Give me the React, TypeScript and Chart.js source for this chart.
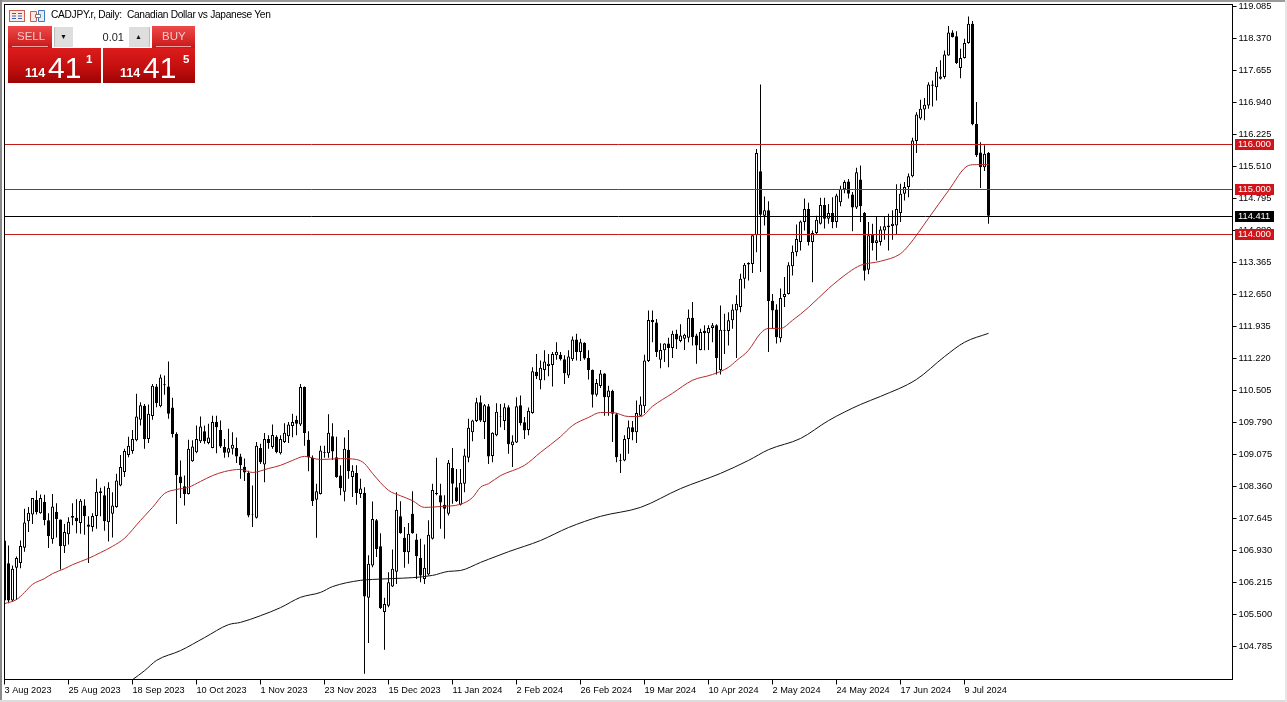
import React, { useEffect, useRef } from "react";
import { Chart, registerables } from "chart.js";

Chart.register(...registerables);

const highs = [
107.31,107.04,106.59,106.79,107.15,107.86,107.90,108.10,108.27,108.18,
108.17,107.76,108.19,107.98,107.62,107.52,107.67,107.98,108.07,108.08,
108.07,107.69,107.76,108.53,108.33,108.36,108.45,108.23,108.64,109.06,
109.20,109.47,109.62,110.43,110.24,110.20,110.19,110.65,110.65,110.86,
110.84,111.15,110.34,109.57,108.94,108.60,109.40,109.39,109.72,109.92,
109.72,109.76,109.94,109.94,109.83,109.42,109.65,109.57,109.45,109.09,
108.98,108.71,108.38,109.35,109.31,109.55,109.50,109.74,109.50,109.50,
109.77,109.80,109.98,109.94,110.65,110.59,109.59,109.05,108.42,109.27,
109.27,109.97,109.77,109.47,108.83,109.45,109.62,108.83,108.83,108.53,
108.34,106.82,108.02,107.63,107.31,105.87,106.44,106.95,108.23,108.03,
107.45,107.54,108.25,107.30,107.19,107.06,107.60,108.42,109.00,108.42,
108.16,108.95,109.22,108.75,108.75,109.20,109.87,109.85,110.34,110.39,
110.20,110.20,109.57,110.22,110.20,110.22,110.17,109.50,110.35,110.39,
109.91,110.12,111.02,111.32,111.17,111.40,111.32,111.36,111.58,111.36,
111.29,111.40,111.71,111.77,111.66,111.58,111.40,110.97,110.76,110.96,
110.89,110.61,110.52,110.00,109.09,109.50,109.83,109.82,110.28,110.37,
111.30,112.29,112.29,112.10,111.56,111.56,111.68,111.84,111.86,111.98,
111.77,112.31,112.48,111.77,111.88,111.96,111.96,112.01,111.98,112.40,
112.22,112.25,112.43,112.63,113.11,113.35,113.37,113.97,115.90,117.34,
114.84,114.73,112.66,112.43,112.78,113.04,113.37,113.74,114.21,114.30,
114.79,114.70,114.08,114.41,114.81,114.81,114.67,114.82,114.90,115.08,
115.20,115.23,114.94,115.48,115.53,114.49,114.27,114.23,114.38,114.17,
114.38,114.45,114.53,115.11,115.12,115.16,115.35,116.15,116.72,117.00,
117.04,117.39,117.43,117.73,117.88,118.10,118.65,118.55,118.53,118.14,
118.36,118.86,118.76,116.95,116.05,115.98,115.83,
];

const lows = [
105.74,105.75,105.79,105.82,106.53,106.90,107.34,107.52,107.73,107.75,
107.49,106.98,107.08,107.22,106.50,106.87,107.06,107.49,107.31,107.30,
107.28,106.65,107.35,107.41,107.69,107.37,107.13,107.22,107.88,108.36,
108.57,109.01,109.09,109.37,109.72,109.20,109.33,109.85,110.13,110.13,
110.41,109.87,109.45,107.52,108.10,107.93,108.18,108.91,109.10,109.33,
109.31,109.30,109.21,109.10,109.22,109.00,109.01,109.07,108.88,108.53,
108.48,107.67,107.45,107.64,108.86,108.45,109.20,109.20,109.10,109.07,
109.33,109.33,109.46,109.50,109.71,109.27,108.70,107.92,107.21,108.18,
109.00,109.00,108.95,108.55,108.16,108.03,108.53,108.12,107.95,108.10,
104.17,104.86,106.55,106.78,105.62,104.71,105.66,106.11,106.18,107.30,
106.54,106.63,107.30,106.29,106.22,106.18,106.37,107.17,108.16,107.41,
107.19,107.71,107.97,108.01,107.93,108.23,108.90,109.37,109.80,109.80,
109.42,108.86,108.90,109.48,109.68,109.62,109.09,108.79,109.33,109.72,
109.42,109.50,109.98,110.76,110.53,110.73,110.82,110.59,111.19,111.17,
110.65,110.78,111.16,111.17,111.16,111.19,110.75,110.12,110.37,110.56,
109.94,109.94,109.35,108.90,108.66,108.92,109.09,109.39,109.33,109.93,
110.00,111.14,111.58,111.25,111.00,111.14,111.02,111.23,111.43,111.58,
111.41,111.58,111.51,111.10,111.40,111.40,111.41,111.58,110.86,110.86,
111.32,111.51,111.88,111.23,112.25,112.78,112.96,113.13,113.59,113.15,
114.19,111.36,111.88,111.55,111.58,112.37,112.65,113.07,113.50,113.63,
114.08,113.74,112.92,114.00,114.21,114.12,114.23,114.13,114.14,114.62,
114.91,114.79,114.06,114.56,114.27,112.96,113.10,113.63,113.41,113.74,
113.87,113.63,113.87,113.99,114.27,114.75,114.82,115.27,115.81,116.55,
116.54,116.80,116.85,116.98,117.45,117.47,117.98,118.39,117.80,117.48,
117.92,118.25,116.43,115.72,115.03,115.41,114.23,
];

const opens = [
107.15,106.64,105.81,106.54,106.65,106.99,107.58,107.73,108.06,107.76,
108.01,107.60,107.18,107.79,107.62,107.02,107.29,107.66,107.66,107.54,
107.93,107.51,107.45,107.70,108.25,108.16,107.56,107.75,107.90,108.38,
108.68,109.06,109.15,109.39,109.85,110.16,109.42,109.93,110.59,110.15,
110.64,110.59,110.12,109.53,108.58,108.36,108.19,108.92,109.12,109.37,
109.59,109.33,109.22,109.80,109.62,109.24,109.11,109.20,109.22,109.03,
108.80,108.66,107.74,107.66,109.22,108.85,109.42,109.24,109.47,109.10,
109.35,109.48,109.71,109.85,109.74,110.58,109.40,109.00,108.06,108.19,
109.11,109.10,109.48,109.01,108.60,108.24,109.18,108.57,108.66,108.19,
108.22,105.87,106.59,107.60,107.02,105.55,105.69,106.12,106.45,107.69,
107.21,106.89,107.75,107.17,106.76,106.29,106.39,107.19,108.19,108.16,
107.95,107.75,108.77,108.34,107.95,108.42,109.00,109.57,109.82,110.24,
109.80,110.15,109.04,109.50,109.91,109.82,110.13,109.28,109.34,110.17,
109.79,109.62,110.00,110.92,110.73,110.96,111.05,111.07,111.29,111.30,
111.20,110.84,111.20,111.64,111.36,111.57,111.23,110.96,110.41,110.60,
110.88,110.35,110.49,109.97,108.95,108.94,109.42,109.68,109.57,109.94,
110.15,111.16,112.08,112.02,111.19,111.40,111.55,111.45,111.77,111.61,
111.66,111.68,112.13,111.73,111.41,111.84,111.78,111.90,111.96,110.96,
111.84,111.83,112.07,112.29,112.37,113.00,113.32,113.33,113.97,115.40,
114.41,114.53,112.51,112.31,111.67,112.59,112.66,113.28,113.59,113.82,
114.27,114.56,113.82,114.02,114.23,114.65,114.34,114.47,114.27,114.71,
115.00,115.17,114.88,114.59,115.22,114.47,113.20,113.99,113.80,113.82,
114.08,114.15,114.18,114.19,114.47,114.90,115.05,115.29,116.08,116.58,
116.78,116.87,117.31,117.28,117.47,117.51,117.99,118.50,118.42,117.71,
117.93,118.27,118.70,116.46,115.82,115.49,115.81,
];

const closes = [
105.81,105.81,106.52,106.76,107.03,107.55,107.77,108.10,107.78,108.10,
107.61,107.25,107.91,107.63,107.02,107.34,107.57,107.70,107.58,108.04,
107.69,107.46,107.70,108.24,108.21,107.58,108.33,107.93,108.49,108.79,
109.15,109.27,109.42,109.92,110.17,109.41,109.98,110.61,110.22,110.79,
110.62,109.98,109.53,108.61,108.43,108.19,109.20,109.25,109.42,109.70,
109.37,109.45,109.80,109.68,109.25,109.11,109.21,109.29,109.03,108.83,
108.67,107.71,107.73,109.27,108.90,109.42,109.33,109.51,109.12,109.42,
109.56,109.74,109.80,109.76,110.58,109.55,109.01,108.03,108.25,109.16,
109.13,109.56,109.14,108.57,108.32,109.20,108.70,108.71,108.21,108.31,
105.90,106.63,107.63,106.96,105.64,105.73,106.22,106.52,107.84,107.31,
106.89,107.30,107.31,106.80,106.37,106.54,107.28,108.28,108.21,108.00,
107.86,108.89,108.42,108.03,108.44,109.05,109.67,109.83,110.24,109.83,
110.17,109.03,109.56,110.03,109.92,110.13,109.30,109.36,110.15,109.77,
109.61,110.05,110.93,110.82,111.01,111.15,111.10,111.32,111.37,111.20,
110.89,111.26,111.64,111.36,111.58,111.22,110.96,110.41,110.67,110.88,
110.35,110.50,109.98,109.01,108.93,109.42,109.68,109.57,110.00,110.19,
111.17,112.08,112.03,111.36,111.41,111.55,111.45,111.77,111.64,111.73,
111.75,112.13,111.69,111.51,111.81,111.78,111.90,111.96,111.23,111.86,
111.86,112.07,112.31,112.44,113.00,113.31,113.35,113.97,115.81,114.43,
114.53,112.50,112.29,111.69,112.57,112.66,113.30,113.60,113.89,114.28,
114.56,113.82,114.02,114.32,114.65,114.34,114.47,114.27,114.86,115.01,
115.16,114.90,114.59,115.38,114.62,113.18,113.97,113.80,113.86,114.10,
114.17,114.19,114.23,114.56,114.90,115.05,115.29,116.09,116.67,116.80,
116.89,117.34,117.34,117.63,117.52,118.01,118.50,118.40,117.82,117.93,
118.27,118.70,116.45,115.76,115.49,115.79,114.41,
];

const ma50Index = [0,3,5,7,10,12,15,17,21,24,27,30,34,37,40,43,46,49,52,55,59,62,66,69,72,75,79,84,88,90,92,96,99,102,105,109,114,117,119,121,124,130,134,139,142,146,149,152,156,159,162,167,172,177,181,183,186,189,191,194,197,201,206,211,214,219,224,226,231,236,241,243,246];
const ma50Values = [105.74,105.83,105.99,106.17,106.30,106.41,106.52,106.61,106.75,106.88,107.02,107.20,107.60,107.89,108.20,108.29,108.34,108.47,108.60,108.69,108.74,108.67,108.76,108.83,108.94,109.03,108.96,108.98,108.96,108.87,108.65,108.27,108.15,108.04,107.89,107.91,107.96,108.11,108.34,108.42,108.60,108.83,109.12,109.47,109.72,109.90,110.01,110.01,109.92,109.92,110.15,110.44,110.73,110.86,111.02,111.17,111.40,111.78,111.89,111.89,112.07,112.36,112.78,113.14,113.30,113.39,113.56,113.74,114.35,114.97,115.53,115.55,115.55];

const ma200Index = [32,35,38,44,50,56,59,64,69,74,79,82,89,92,97,102,107,111,114,119,121,126,134,141,149,159,169,179,186,191,199,206,214,219,228,235,240,246];
const ma200Values = [104.04,104.24,104.47,104.69,104.98,105.27,105.32,105.47,105.65,105.88,105.99,106.12,106.26,106.28,106.30,106.32,106.37,106.46,106.48,106.66,106.73,106.90,107.15,107.44,107.69,107.89,108.31,108.65,108.94,109.18,109.43,109.83,110.19,110.37,110.75,111.26,111.58,111.78];

const dateTicks = ["3 Aug 2023","25 Aug 2023","18 Sep 2023","10 Oct 2023","1 Nov 2023","23 Nov 2023","15 Dec 2023","11 Jan 2024","2 Feb 2024","26 Feb 2024","19 Mar 2024","10 Apr 2024","2 May 2024","24 May 2024","17 Jun 2024","9 Jul 2024"];
const priceTicks = [119.085,118.37,117.655,116.94,116.225,115.51,114.795,114.08,113.365,112.65,111.935,111.22,110.505,109.79,109.075,108.36,107.645,106.93,106.215,105.5,104.785];
const priceTickLabels = ["119.085","118.370","117.655","116.940","116.225","115.510","114.795","114.080","113.365","112.650","111.935","111.220","110.505","109.790","109.075","108.360","107.645","106.930","106.215","105.500","104.785"];
const redLevels = [116, 115, 114];
const redLevelLabels = ["116.000", "115.000", "114.000"];
const lastPrice = 114.411;
const lastPriceLabel = "114.411";

const SLOTS = 308;
const TICK_STEP = 16;
const FONT = "'Liberation Sans', Arial, sans-serif";
const RED_LINE = "#c41a1a";

function sparse(idx: number[], vals: number[]) {
  const out: (number | null)[] = Array(SLOTS).fill(null);
  idx.forEach((k, j) => { out[k] = vals[j]; });
  return out;
}

const boxesPlugin = {
  id: "boxes",
  afterDatasetsDraw(chart: any) {
    const { ctx, chartArea, scales } = chart;
    ctx.save();
    ctx.lineWidth = 1;
    const level = (v: number, color: string) => {
      const y = Math.round(scales.y.getPixelForValue(v)) + 0.5;
      ctx.strokeStyle = color;
      ctx.beginPath();
      ctx.moveTo(chartArea.left, y);
      ctx.lineTo(chartArea.right, y);
      ctx.stroke();
    };
    redLevels.forEach((v) => level(v, RED_LINE));
    level(lastPrice, "#000");
    ctx.restore();
  },
  afterDraw(chart: any) {
    const { ctx, chartArea, scales } = chart;
    ctx.save();
    ctx.strokeStyle = "#000";
    ctx.lineWidth = 1;
    ctx.strokeRect(chartArea.left, chartArea.top, chartArea.right - chartArea.left, chartArea.bottom - chartArea.top);
    const box = (v: number, text: string, bg: string) => {
      const y = Math.round(scales.y.getPixelForValue(v));
      ctx.fillStyle = bg;
      ctx.fillRect(1235, y - 5, 39, 11);
      ctx.fillStyle = "#fff";
      ctx.font = `9.3px ${FONT}`;
      ctx.textBaseline = "middle";
      ctx.textAlign = "left";
      ctx.fillText(text, 1238, y + 0.5);
    };
    redLevels.forEach((v, i) => box(v, redLevelLabels[i], "#d0141a"));
    box(lastPrice, lastPriceLabel, "#000");
    ctx.restore();
  },
};

const abs = (left: number, top: number, w: number, h: number, extra: React.CSSProperties = {}): React.CSSProperties => ({
  position: "absolute", left, top, width: w, height: h, ...extra,
});

const sellBg = "linear-gradient(#ee4a4a, #c81818)";
const priceBg = "linear-gradient(#dc1c1c 0%, #c40f0f 55%, #9c0404 100%)";
const txt: React.CSSProperties = { position: "absolute", fontFamily: FONT, whiteSpace: "nowrap", lineHeight: 1 };

function Quote({ left, last, x, w }: { left: number; last: string; x: number; w: number }) {
  return (
    <div style={abs(left, 48, w, 35, { background: priceBg })}>
      <span style={{ ...txt, left: 17, top: 19, fontSize: 12.5, fontWeight: 700, color: "#fff" }}>114</span>
      <span style={{ ...txt, left: 40, top: 5, fontSize: 30, color: "#fff" }}>41</span>
      <span style={{ ...txt, left: x, top: 6, fontSize: 11.5, fontWeight: 700, color: "#fff" }}>{last}</span>
    </div>
  );
}

const noPadding = (axis: any) => {
  axis.paddingTop = 0;
  axis.paddingBottom = 0;
  axis.paddingLeft = 0;
  axis.paddingRight = 0;
};

export default function App() {
  const ref = useRef<HTMLCanvasElement>(null);
  useEffect(() => {
    const labels = Array.from({ length: SLOTS }, (_, i) => String(i));
    const chart = new Chart(ref.current as HTMLCanvasElement, {
      type: "bar",
      data: {
        labels,
        datasets: [
          {
            type: "line", label: "MA 50", data: sparse(ma50Index, ma50Values), spanGaps: true,
            borderColor: "#b52a2a", borderWidth: 1, pointRadius: 0, cubicInterpolationMode: "monotone", order: 2,
          },
          {
            type: "line", label: "MA 200", data: sparse(ma200Index, ma200Values), spanGaps: true,
            borderColor: "#111", borderWidth: 1, pointRadius: 0, cubicInterpolationMode: "monotone", order: 2,
          },
          {
            label: "Range", data: highs.map((h, i) => [lows[i], h]), barThickness: 1,
            backgroundColor: "#000", borderWidth: 0, inflateAmount: 0, grouped: false, order: 4,
          },
          {
            label: "Body", data: opens.map((o, i) => [Math.min(o, closes[i]), Math.max(o, closes[i])]), barThickness: 3,
            backgroundColor: opens.map((o, i) => (closes[i] >= o ? "#fff" : "#000")),
            borderColor: "#000", borderWidth: 1, borderSkipped: false, inflateAmount: 0, grouped: false, order: 3,
          },
        ] as any,
      },
      options: {
        responsive: false,
        animation: false,
        layout: { autoPadding: false, padding: { left: 4.5, top: 4.5, right: 0, bottom: 0 } },
        plugins: { legend: { display: false }, tooltip: { enabled: false } },
        scales: {
          x: {
            type: "category",
            offset: false,
            border: { display: false },
            grid: { drawOnChartArea: false, offset: false, color: "#000", tickColor: "#000", tickLength: 5 },
            afterBuildTicks: (axis: any) => {
              axis.ticks = axis.ticks.filter((t: any) => t.value % TICK_STEP === 0 && t.value / TICK_STEP < dateTicks.length);
            },
            afterFit: (axis: any) => { axis.height = 22.5; noPadding(axis); },
            ticks: {
              autoSkip: false, maxRotation: 0, minRotation: 0, align: "start", padding: 0, color: "#000",
              font: { family: FONT, size: 9.2 },
              callback: (v: any) => dateTicks[Number(v) / TICK_STEP],
            },
          },
          y: {
            position: "right",
            min: 104.044,
            max: 119.128,
            border: { display: false },
            grid: { drawOnChartArea: false, color: "#000", tickColor: "#000", tickLength: 4 },
            afterBuildTicks: (axis: any) => { axis.ticks = priceTicks.map((value) => ({ value })); },
            afterFit: (axis: any) => { axis.width = 54.5; noPadding(axis); },
            ticks: {
              autoSkip: false, padding: 2, color: "#000",
              font: { family: FONT, size: 9.3 },
              callback: (v: any) => priceTickLabels[priceTicks.indexOf(Number(v))],
            },
          },
        },
      } as any,
      plugins: [boxesPlugin] as any,
    });
    return () => chart.destroy();
  }, []);

  return (
    <div style={{ position: "fixed", left: 0, top: 0, width: 1287, height: 702, overflow: "hidden", background: "#fff" }}>
      <canvas ref={ref} width={1287} height={702} style={{ position: "absolute", left: 0, top: 0, display: "block" }} />
      <div style={abs(0, 0, 1287, 2, { background: "#9a9a9a" })} />
      <div style={abs(0, 0, 2, 702, { background: "#8a8a8a" })} />
      <div style={abs(0, 700, 1287, 2, { background: "#dcdcdc" })} />
      <div style={abs(1285, 0, 2, 702, { background: "#e6e6e6" })} />

      <svg style={abs(9, 10, 16, 12)} viewBox="0 0 16 12">
        <rect x="0.5" y="0.5" width="15" height="11" fill="#fde9e4" stroke="#c8604f" />
        <path d="M3 3.5h4M3 6h4M3 8.5h4M9 3.5h4M9 6h4M9 8.5h4" stroke="#3a62b0" strokeWidth="1" />
      </svg>
      <svg style={abs(30, 9, 16, 13)} viewBox="0 0 16 13">
        <path d="M0.5 2.5h6v10h-6z" fill="#fde9e4" stroke="#c8604f" />
        <path d="M8.5 1.5h6v11h-6z" fill="#e3eef9" stroke="#3a78c0" />
        <path d="M5.5 5.5h5v3h-5z" fill="#fff" stroke="#777" />
      </svg>
      <span style={{ ...txt, left: 51, top: 10, fontSize: 10.2, letterSpacing: "-0.3px", color: "#000" }}>CADJPY.r, Daily:&nbsp; Canadian Dollar vs Japanese Yen</span>

      <div style={abs(8, 26, 44, 22, { background: sellBg })}>
        <span style={{ ...txt, left: 9, top: 5, fontSize: 11.5, color: "#f6caca" }}>SELL</span>
        <div style={abs(4, 20, 36, 1, { background: "#f3a0a0" })} />
      </div>
      <div style={abs(152, 26, 43, 22, { background: sellBg })}>
        <span style={{ ...txt, left: 10, top: 5, fontSize: 11.5, color: "#f6caca" }}>BUY</span>
        <div style={abs(4, 20, 35, 1, { background: "#f3a0a0" })} />
      </div>
      <div style={abs(54, 27, 19, 20, { background: "#dedede", borderLeft: "1px solid #bbb", boxSizing: "border-box" })}>
        <span style={{ ...txt, left: 5, top: 6, fontSize: 7, color: "#111" }}>▼</span>
      </div>
      <div style={abs(73, 27, 56, 20, { background: "#fff" })}>
        <span style={{ ...txt, right: 5, top: 5, fontSize: 11, color: "#222" }}>0.01</span>
      </div>
      <div style={abs(129, 27, 21, 20, { background: "#dedede", borderRight: "1px solid #bbb", boxSizing: "border-box" })}>
        <span style={{ ...txt, left: 6, top: 6, fontSize: 7, color: "#111" }}>▲</span>
      </div>
      <Quote left={8} last="1" x={78} w={93} />
      <Quote left={103} last="5" x={80} w={92} />
    </div>
  );
}
